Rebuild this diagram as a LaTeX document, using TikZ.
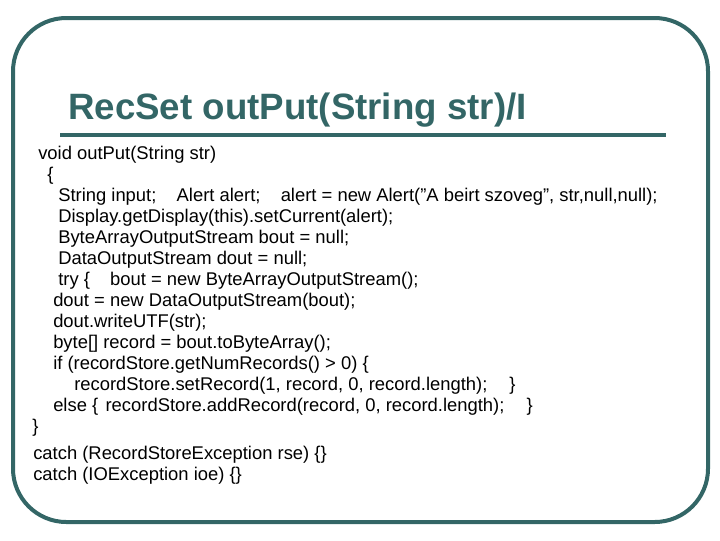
\documentclass[tikz,border=0pt]{standalone}
\usepackage{fontspec}
\setmainfont{Liberation Sans}
\definecolor{teal1}{HTML}{336666}
\begin{document}
\begin{tikzpicture}[x=0.75pt,y=-0.75pt,
  code/.style={anchor=base west,inner sep=0pt,font=\fontsize{13.8}{15}\selectfont},
  ttl/.style={anchor=base west,inner sep=0pt,text=teal1,font=\fontsize{27.5}{30}\selectfont\bfseries}]
\useasboundingbox (0,0) rectangle (720,540);
\draw[teal1,line width=3pt,rounded corners=40pt] (13,18) rectangle (708,522);
\node[ttl] (t) at (68,119) {RecSet outPut(String str)/I};
\draw[teal1,line width=3pt] (60,135) -- (666,135);
\node[code] (l1) at (38,159) {void outPut(String str)};
\node[code] (l2) at (47,180) {\{};
\node[code] (l3) at (58,201) {String input;\hspace{1.1em}Alert alert;\hspace{1.1em}alert = new Alert(\symbol{34}A beirt szoveg\symbol{34}, str,null,null);};
\node[code] (l4) at (58,222) {Display.getDisplay(this).setCurrent(alert);};
\node[code] (l5) at (58,243) {ByteArrayOutputStream bout = null;};
\node[code] (l6) at (58,264) {DataOutputStream dout = null;};
\node[code] (l7) at (58,285) {try \{\hspace{1.1em}bout = new ByteArrayOutputStream();};
\node[code] (l8) at (53,306) {dout = new DataOutputStream(bout);};
\node[code] (l9) at (53,327) {dout.writeUTF(str);};
\node[code] (l10) at (53,348) {byte[] record = bout.toByteArray();};
\node[code] (l11) at (53,369) {if (recordStore.getNumRecords() > 0) \{};
\node[code] (l12) at (74,390) {recordStore.setRecord(1, record, 0, record.length);\hspace{1.2em}\}};
\node[code] (l13) at (53,411) {else \{\hspace{0.4em}recordStore.addRecord(record, 0, record.length);\hspace{1.2em}\}};
\node[code] (l14) at (32,432) {\}};
\node[code] (l15) at (33,459) {catch (RecordStoreException rse) \{\}};
\node[code] (l16) at (33,480) {catch (IOException ioe) \{\}};
\end{tikzpicture}
\end{document}
